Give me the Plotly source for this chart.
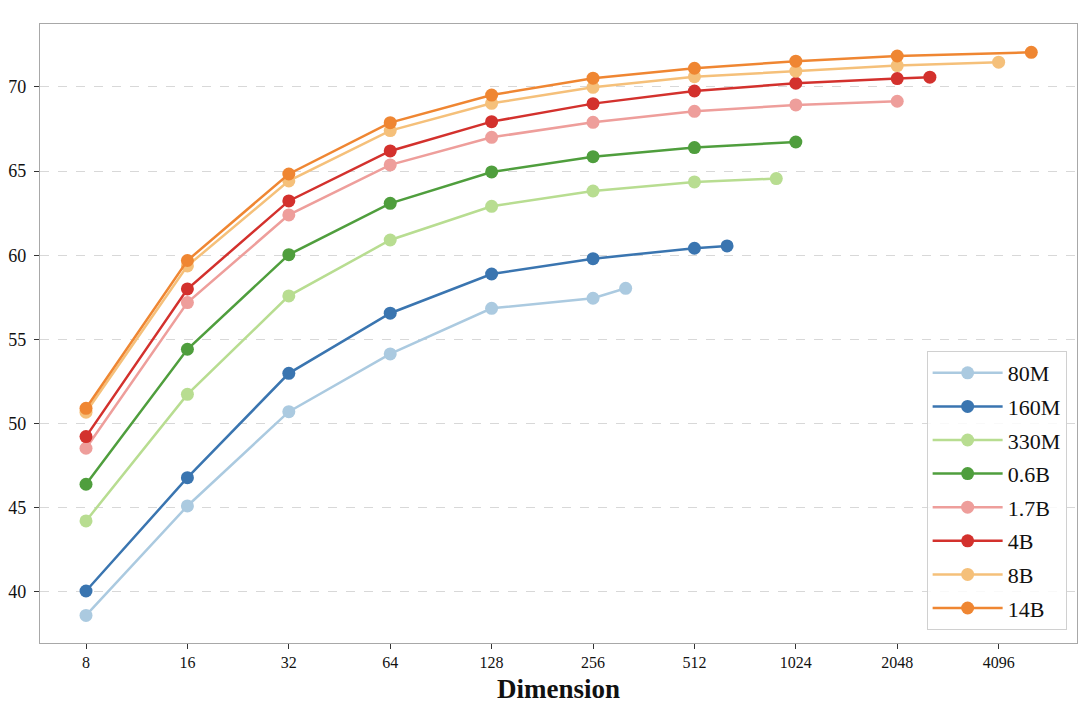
import plotly.graph_objects as go

series_names = ["80M", "160M", "330M", "0.6B", "1.7B", "4B", "8B", "14B"]
colors = ["#abcae0", "#3a75b0", "#b8dd91", "#4f9e3d", "#ee9e9b", "#d3312d", "#f5c07a", "#ef8632"]

dims_80M = [8, 16, 32, 64, 128, 256, 320]
dims_160M = [8, 16, 32, 64, 128, 256, 512, 640]
dims_330M = [8, 16, 32, 64, 128, 256, 512, 896]
dims_06B = [8, 16, 32, 64, 128, 256, 512, 1024]
dims_17B = [8, 16, 32, 64, 128, 256, 512, 1024, 2048]
dims_4B = [8, 16, 32, 64, 128, 256, 512, 1024, 2048, 2560]
dims_8B = [8, 16, 32, 64, 128, 256, 512, 1024, 2048, 4096]
dims_14B = [8, 16, 32, 64, 128, 256, 512, 1024, 2048, 5120]

vals_80M = [38.61, 45.11, 50.71, 54.14, 56.85, 57.45, 58.04]
vals_160M = [40.06, 46.79, 52.99, 56.56, 58.89, 59.80, 60.42, 60.56]
vals_330M = [44.22, 51.74, 57.59, 60.91, 62.91, 63.82, 64.36, 64.56]
vals_06B = [46.40, 54.42, 60.04, 63.09, 64.95, 65.86, 66.40, 66.73]
vals_17B = [48.54, 57.19, 62.40, 65.37, 67.01, 67.90, 68.55, 68.93, 69.15]
vals_4B = [49.23, 58.00, 63.23, 66.20, 67.94, 69.01, 69.76, 70.22, 70.50, 70.58]
vals_8B = [50.68, 59.37, 64.42, 67.41, 69.03, 69.98, 70.61, 70.94, 71.27, 71.47]
vals_14B = [50.91, 59.69, 64.83, 67.88, 69.52, 70.52, 71.11, 71.53, 71.84, 72.06]

x_tick_vals = [8, 16, 32, 64, 128, 256, 512, 1024, 2048, 4096]
x_tick_text = ["8", "16", "32", "64", "128", "256", "512", "1024", "2048", "4096"]
y_tick_vals = [40, 45, 50, 55, 60, 65, 70]

all_dims = [dims_80M, dims_160M, dims_330M, dims_06B, dims_17B, dims_4B, dims_8B, dims_14B]
all_vals = [vals_80M, vals_160M, vals_330M, vals_06B, vals_17B, vals_4B, vals_8B, vals_14B]

fig = go.Figure()
for name, c, xs, ys in zip(series_names, colors, all_dims, all_vals):
    fig.add_trace(go.Scatter(
        x=xs, y=ys, name=name, mode="lines+markers", legendgroup=name,
        line=dict(color=c, width=2.5),
        marker=dict(color=c, size=13),
    ))

font_family = "Liberation Serif, Times New Roman, serif"
fig.update_layout(
    width=1076, height=702,
    margin=dict(l=32, r=7, t=16, b=67),
    paper_bgcolor="white", plot_bgcolor="white",
    font=dict(family=font_family, color="#111"),
    showlegend=True,
    legend=dict(
        x=0.990, y=0.021, xanchor="right", yanchor="bottom",
        bgcolor="rgba(255,255,255,0.85)", bordercolor="#d0d0d0", borderwidth=1,
        font=dict(family=font_family, size=22, color="#111"),
        itemwidth=70, tracegroupgap=2,
    ),
)
fig.update_xaxes(
    type="log", range=[0.7665, 3.845],
    tickvals=x_tick_vals, ticktext=x_tick_text,
    tickfont=dict(family=font_family, size=16, color="#111"),
    ticks="outside", ticklen=5, tickwidth=1.2, tickcolor="#333",
    showgrid=False, zeroline=False, automargin=False,
    showline=True, linecolor="#a8a8a8", linewidth=1.3, mirror=True,
    title=dict(text="<b>Dimension</b>", font=dict(family=font_family, size=27, color="#111"), standoff=8),
)
fig.update_yaxes(
    range=[36.97, 73.74],
    tickvals=y_tick_vals,
    tickfont=dict(family=font_family, size=18, color="#111"),
    ticks="outside", ticklen=5, tickwidth=1.2, tickcolor="#333",
    ticklabelstandoff=4, automargin=False,
    showgrid=True, gridcolor="#d8d8d8", griddash="dash", gridwidth=1.2,
    zeroline=False,
    showline=True, linecolor="#a8a8a8", linewidth=1.3, mirror=True,
)

fig.write_html("out.html")
